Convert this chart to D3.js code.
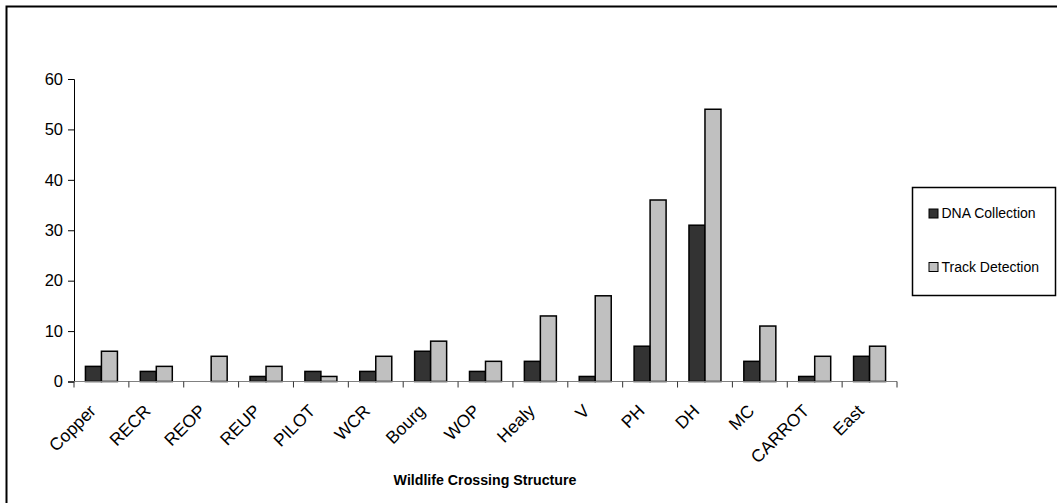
<!DOCTYPE html>
<html><head><meta charset="utf-8">
<script src="https://cdn.jsdelivr.net/npm/d3@7"></script>
<style>body{margin:0;background:#fff}svg{display:block;font-family:"Liberation Sans",Arial,sans-serif}</style>
</head><body><svg id="c" width="1057" height="503"></svg>
<script>
const categories = ["Copper","RECR","REOP","REUP","PILOT","WCR","Bourg","WOP","Healy","V","PH","DH","MC","CARROT","East"];
const dnaCollection = [3,2,0,1,2,2,6,2,4,1,7,31,4,1,5];
const trackDetection = [6,3,5,3,1,5,8,4,13,17,36,54,11,5,7];
const seriesNames = ["DNA Collection","Track Detection"];
const yTicks = [0,10,20,30,40,50,60];
const xTitle = "Wildlife Crossing Structure";
const colors = ["#333333","#c0c0c0"];

const svg = d3.select("#c");
svg.append("rect").attr("x",6.5).attr("y",6.5).attr("width",1060).attr("height",510)
  .attr("fill","none").attr("stroke","#000").attr("stroke-width",2);

const x0 = 74, x1 = 897, yTop = 79, yBot = 381.5;
const x = d3.scaleBand().domain(categories).range([x0,x1]);
const y = d3.scaleLinear().domain([0,60]).range([yBot,yTop]);
const barW = 16;

const data = categories.map((c,i)=>({c, v:[dnaCollection[i], trackDetection[i]]}));
const g = svg.append("g");
data.forEach(d=>{
  const cx = x(d.c) + x.bandwidth()/2;
  d.v.forEach((v,j)=>{
    if (v<=0) return;
    g.append("rect").attr("x", cx - barW + j*barW).attr("y", y(v))
      .attr("width", barW).attr("height", y(0)-y(v))
      .attr("fill", colors[j]).attr("stroke","#000").attr("stroke-width",1.5);
  });
});

// Y axis
const ya = svg.append("g").attr("transform",`translate(${x0},0)`)
  .call(d3.axisLeft(y).tickValues(yTicks).tickSize(6).tickPadding(5).tickFormat(d3.format("d")));
ya.select(".domain").attr("stroke","#000");
ya.selectAll(".tick line").attr("stroke","#000");
ya.selectAll("text").attr("font-size",16.5).attr("font-family","Liberation Sans, Arial").attr("fill","#000");

// X axis line and ticks
const boundaries = categories.map(c=>x(c)).concat([x1]);
svg.append("line").attr("x1",x0).attr("x2",x1).attr("y1",yBot).attr("y2",yBot).attr("stroke","#808080").attr("stroke-width",1.2);
svg.selectAll(".xt").data(boundaries).enter().append("line")
  .attr("x1",d=>d).attr("x2",d=>d).attr("y1",yBot).attr("y2",yBot+6).attr("stroke","#333");
svg.selectAll(".xl").data(categories).enter().append("text")
  .attr("transform",d=>`translate(${x(d)+x.bandwidth()/2-4.5},${412}) rotate(-45)`)
  .attr("text-anchor","end").attr("font-size",17.5).text(d=>d);

svg.append("text").attr("x",485).attr("y",485).attr("text-anchor","middle")
  .attr("font-size",14.2).attr("font-weight","bold").text(xTitle);

// Legend
const lg = svg.append("g");
lg.append("rect").attr("x",912.5).attr("y",187.5).attr("width",143).attr("height",108)
  .attr("fill","#fff").attr("stroke","#000").attr("stroke-width",1.5);
seriesNames.forEach((n,i)=>{
  const ly = 213.5 + i*53.5;
  lg.append("rect").attr("x",929).attr("y",ly-4.5).attr("width",9).attr("height",9)
    .attr("fill",colors[i]).attr("stroke","#000").attr("stroke-width",1);
  lg.append("text").attr("x",941.5).attr("y",ly).attr("dy","0.35em").attr("font-size",14).text(n);
});
</script></body></html>
